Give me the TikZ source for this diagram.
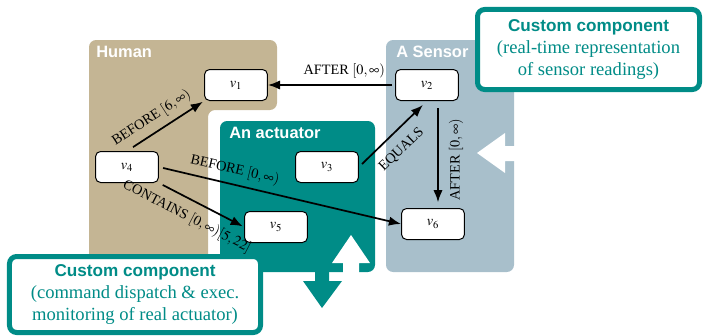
\documentclass[tikz,border=0pt]{standalone}
\usepackage{mathptmx}
\usepackage{fontspec}
\setmainfont{Liberation Serif}
\setsansfont{Liberation Sans}
\usepackage{tikz}
\usetikzlibrary{arrows.meta, positioning, calc}

\definecolor{humancol}{RGB}{196,181,148}
\definecolor{sensorcol}{RGB}{168,191,203}
\definecolor{actcol}{RGB}{0,140,135}

\begin{document}
\begin{tikzpicture}[x=0.7pt, y=-0.7pt, >={Latex[length=8.5pt, width=6.5pt]},
vnode/.style={draw, fill=white, rounded corners=3.5pt, line width=0.7pt, minimum width=44pt, minimum height=21.7pt},
edge/.style={->, line width=1.2pt},
region/.style={rounded corners=5pt},
regionlabel/.style={anchor=base west, inner sep=0pt, text=white, font=\sffamily\bfseries\fontsize{11.5}{13}\selectfont},
callout/.style={draw=actcol, fill=white, line width=3.5pt, rounded corners=5pt, text=actcol, align=center, font=\fontsize{13}{15.2}\selectfont}
]
    \useasboundingbox (0,0) rectangle (703,336);

    % Components
    \fill [sensorcol, region] (386,40) rectangle (514,272);
    \fill [humancol, region] (89,40) -- (277,40) -- (277,110) -- (208,110) -- (208,272) -- (89,272) -- cycle;
    \fill [actcol, region] (220,121) rectangle (375,272);
    \node [regionlabel] (human) at (96,57) {Human};
    \node [regionlabel] (actuator) at (229,138) {An actuator};
    \node [regionlabel] (sensor) at (396,57) {A Sensor};

    % Data flow between real device and model
    \fill [white] (477,153) -- (505,133) -- (505,146) -- (520,146) -- (520,161) -- (505,161) -- (505,173) -- cycle;
    \fill [white] (351,235) -- (370,263) -- (359,263) -- (359,285) -- (343,285) -- (343,263) -- (332,263) -- cycle;
    \fill [actcol] (322,308) -- (303,281) -- (315,281) -- (315,268) -- (329,268) -- (329,281) -- (342,281) -- cycle;

    % Events
    \node [vnode] (v1) at (236,85) {$v_1$};
    \node [vnode] (v2) at (427,85) {$v_2$};
    \node [vnode] (v3) at (327,167) {$v_3$};
    \node [vnode] (v4) at (127,167) {$v_4$};
    \node [vnode] (v5) at (276,227) {$v_5$};
    \node [vnode] (v6) at (433,224) {$v_6$};

    % Temporal constraints
    \draw [edge, shorten <=2pt] (v2) -- node [pos=0.4, above=1pt] {AFTER $[0,\infty)$} (v1);
    \draw [edge, shorten <=5pt, shorten >=1pt] (v4.north) -- node [pos=0.42, above=1pt, sloped] {BEFORE $[6,\infty)$} (v1.south west);
    \draw [edge, shorten <=3pt] (v4.east) -- node [pos=0.3, above=1pt, sloped] {BEFORE $[0,\infty)$} (v6.west);
    \draw [edge, shorten <=3pt, shorten >=1pt] (v4.south east) -- node [pos=0.42, below=3pt, sloped] {CONTAINS $[0,\infty)[5,22]$} (v5.west);
    \draw [edge, shorten <=3pt, shorten >=4pt] (v3.east) -- node [pos=0.45, below=4pt, sloped] {EQUALS} (v2.south);
    \draw [edge, shorten <=5pt, shorten >=4pt] ($(v2.south)+(11,0)$) -- node [pos=0.55, rotate=90, anchor=north, inner ysep=7pt] {AFTER $[0,\infty)$} ($(v6.north)+(5,0)$);

    % Custom components
    \node [callout, minimum width=155.4pt, minimum height=56pt] (sensorcomp) at (588.5,49.5)
        {{\sffamily\bfseries\fontsize{12}{15.2}\selectfont Custom component}\\(real-time representation\\of sensor readings)};
    \node [callout, minimum width=175.7pt, minimum height=53.2pt] (actcomp) at (135,294.5)
        {{\sffamily\bfseries\fontsize{12}{15.2}\selectfont Custom component}\\(command dispatch \& exec.\\monitoring of real actuator)};
\end{tikzpicture}
\end{document}
